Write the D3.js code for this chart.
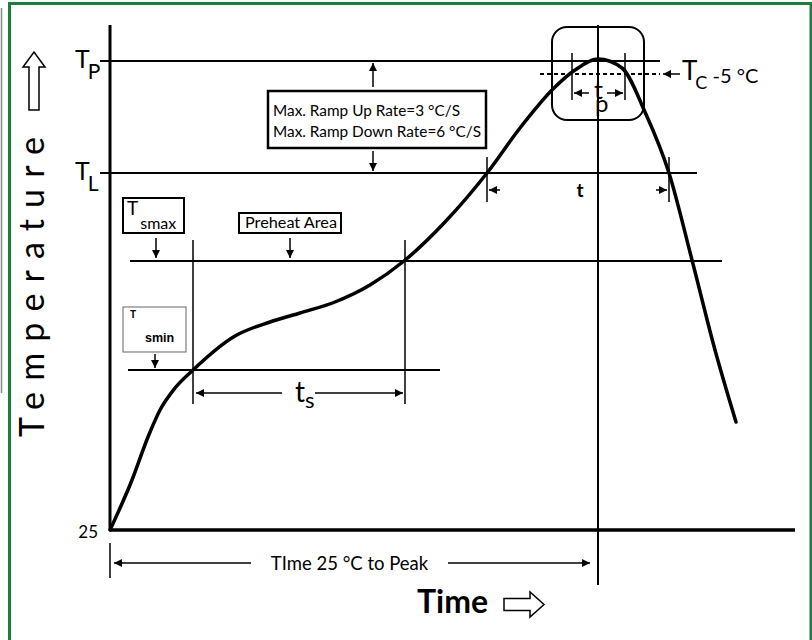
<!DOCTYPE html>
<html>
<head>
<meta charset="utf-8">
<script src="https://cdn.jsdelivr.net/npm/d3@7"></script>
<style>
  body { margin: 0; background: #fff; }
  text { font-family: Lato, "Open Sans", sans-serif; fill: #000; }
</style>
</head>
<body>
<div id="chart"></div>
<script>
// Reflow profile curve (time in s, temperature in °C, schematic)
const profileTime = [0, 11, 19, 25, 32.5, 41.5, 62.5, 80, 95, 112.5, 130, 147, 167.5, 188.5, 205, 221.5, 232.5, 244, 256, 267.5, 279.5, 291, 302.5, 313];
const profileTemp = [25, 50, 71.5, 85, 96, 105, 122, 129, 133.5, 139, 147.5, 159.5, 179, 203.5, 226, 245.5, 255, 260.5, 256, 234, 203.5, 160, 115, 79];

// Temperature levels drawn as horizontal lines
const levelNames = ["TP", "TL", "Tsmax", "Tsmin"];
const levelTemps = [259.5, 203.5, 159.5, 105];
const levelFrom = [-5, -5, 10, 9];
const levelTo = [275, 293.5, 306, 165];

// Tc -5 °C line
const tcTemp = 253;
const tcFrom = 215, tcTo = 275;

// Time markers
const tsStart = 41.5, tsEnd = 147.5;
const tlStart = 188.5, tlEnd = 279.5;
const tpStart = 231, tpEnd = 257.5;
const peakTime = 244;
const baseTemp = 25;
const yTickLabels = ["25"];

const svg = d3.select("#chart").append("svg")
  .attr("width", 812).attr("height", 640);

const x = d3.scaleLinear().domain([0, 340]).range([110, 790]);
const y = d3.scaleLinear().domain([25, 260]).range([530, 60]);

// arrow head
const defs = svg.append("defs");
defs.append("marker")
  .attr("id", "ah")
  .attr("viewBox", "0 0 10 10")
  .attr("refX", 10).attr("refY", 5)
  .attr("markerWidth", 10).attr("markerHeight", 8)
  .attr("markerUnits", "userSpaceOnUse")
  .attr("orient", "auto-start-reverse")
  .append("path").attr("d", "M0,0L10,5L0,10z").attr("fill", "#000");

// green frame + grey edge line
svg.append("rect").attr("x", 9.5).attr("y", 3.5).attr("width", 801.5).attr("height", 660)
  .attr("fill", "none").attr("stroke", "#1b7f3c").attr("stroke-width", 3);
svg.append("line").attr("x1", 1.5).attr("x2", 1.5).attr("y1", 8).attr("y2", 393)
  .attr("stroke", "#8a8a8a").attr("stroke-width", 1.5);

function seg(t1, T1, t2, T2, w, opts) {
  opts = opts || {};
  const l = svg.append("line")
    .attr("x1", x(t1)).attr("y1", y(T1))
    .attr("x2", x(t2)).attr("y2", y(T2))
    .attr("stroke", "#000").attr("stroke-width", w);
  if (opts.dash) l.attr("stroke-dasharray", opts.dash);
  if (opts.end) l.attr("marker-end", "url(#ah)");
  if (opts.start) l.attr("marker-start", "url(#ah)");
  return l;
}

function label(px, py, parts, anchor) {
  const t = svg.append("text").attr("x", px).attr("y", py).attr("text-anchor", anchor || "start");
  parts.forEach(p => {
    const s = t.append("tspan").text(p.text).attr("font-size", p.size);
    if (p.dy) s.attr("dy", p.dy);
    if (p.dx) s.attr("dx", p.dx);
    if (p.weight) s.attr("font-weight", p.weight);
    if (p.family) s.attr("font-family", p.family);
  });
  return t;
}

// axes
seg(0, 277.5, 0, baseTemp, 3);
seg(0, baseTemp, 342.5, baseTemp, 3.5);
svg.selectAll(".ytick").data(yTickLabels).enter().append("text")
  .attr("x", x(0) - 12).attr("y", d => y(+d) + 8)
  .attr("text-anchor", "end").attr("font-size", 17).text(d => d);

// level lines
levelTemps.forEach((T, i) => seg(levelFrom[i], T, levelTo[i], T, 2));
seg(tcFrom, tcTemp, tcTo, tcTemp, 2, { dash: "4,3" });

// verticals
seg(tsStart, 170, tsStart, 88, 1.5);
seg(tsEnd, 170, tsEnd, 88, 1.5);
seg(peakTime, 277.5, peakTime, -2.5, 2);
seg(tlStart, 211.5, tlStart, 189, 1.5);
seg(tlEnd, 211.5, tlEnd, 189, 1.5);
seg(tpStart, 263.5, tpStart, 240, 1.5);
seg(tpEnd, 263.5, tpEnd, 240, 1.5);
seg(0, 18.5, 0, 1, 1.5);

// curve
const pts = profileTime.map((t, i) => [t, profileTemp[i]]);
svg.append("path")
  .attr("d", d3.line().x(d => x(d[0])).y(d => y(d[1])).curve(d3.curveMonotoneX)(pts))
  .attr("fill", "none").attr("stroke", "#000").attr("stroke-width", 3.5)
  .attr("stroke-linecap", "round");

// level labels
label(75, y(levelTemps[0]) + 7, [{ text: "T", size: 25 }, { text: "P", size: 21, dy: 11, dx: -2 }]);
label(75, y(levelTemps[1]) + 7, [{ text: "T", size: 25 }, { text: "L", size: 21, dy: 11, dx: -2 }]);

// ramp rate box
svg.append("rect").attr("x", x(79)).attr("y", y(244.5))
  .attr("width", x(188) - x(79)).attr("height", y(216) - y(244.5))
  .attr("fill", "#fff").attr("stroke", "#000").attr("stroke-width", 2.5);
label(x(81.5), y(232), [{ text: "Max. Ramp Up Rate=3 °C/S", size: 15.5 }])
  .attr("textLength", 187).attr("lengthAdjust", "spacingAndGlyphs");
label(x(81.5), y(221.5), [{ text: "Max. Ramp Down Rate=6 °C/S", size: 15.5 }])
  .attr("textLength", 208).attr("lengthAdjust", "spacingAndGlyphs");
seg(131.5, 246.5, 131.5, 258.5, 1.5, { end: true });
seg(131.5, 214.5, 131.5, 204.5, 1.5, { end: true });

// Tsmax box
svg.append("rect").attr("x", x(6.5)).attr("y", y(191))
  .attr("width", x(37) - x(6.5)).attr("height", y(173.5) - y(191))
  .attr("fill", "#fff").attr("stroke", "#000").attr("stroke-width", 2);
label(x(8.5), y(185) + 5, [{ text: "T", size: 19 }, { text: "smax", size: 16, dy: 14, dx: 2 }]);
seg(23, 171, 23, 161, 1.5, { end: true });

// Preheat Area box
svg.append("rect").attr("x", x(64.5)).attr("y", y(183.5))
  .attr("width", x(115.5) - x(64.5)).attr("height", y(173.5) - y(183.5))
  .attr("fill", "#fff").attr("stroke", "#000").attr("stroke-width", 2);
label(x(67.5), y(176.5) + 1, [{ text: "Preheat Area", size: 14.5 }])
  .attr("textLength", 92).attr("lengthAdjust", "spacingAndGlyphs");
seg(90, 171, 90, 161, 1.5, { end: true });

// Tsmin box
svg.append("rect").attr("x", x(6.5)).attr("y", y(136.5))
  .attr("width", x(38) - x(6.5)).attr("height", y(114) - y(136.5))
  .attr("fill", "#fff").attr("stroke", "#666").attr("stroke-width", 1);
label(x(10), y(131.5) + 1, [{ text: "T", size: 10, weight: "bold", family: "Liberation Sans, Arial, sans-serif" }]);
label(x(17.5), y(119), [{ text: "smin", size: 12.5, weight: "bold", family: "Liberation Sans, Arial, sans-serif" }]);
seg(22.5, 113, 22.5, 106, 1.5, { end: true });

// ts arrows
seg(tsStart + 1.5, 93.5, 86, 93.5, 1.5, { start: true });
seg(102.5, 93.5, tsEnd - 1, 93.5, 1.5, { end: true });
label(x(92.5), y(93.5) + 9, [{ text: "t", size: 28 }, { text: "s", size: 22, dy: 6 }]);

// t between TL crossings
seg(tlStart + 6.5, 195, tlStart + 1, 195, 1.5, { end: true });
seg(tlEnd - 6.5, 195, tlEnd - 1, 195, 1.5, { end: true });
label(x(235), y(195) + 7, [{ text: "t", size: 19, weight: "bold" }], "middle");

// peak box
svg.append("rect").attr("x", x(221)).attr("y", y(276.5))
  .attr("width", x(267) - x(221)).attr("height", y(230) - y(276.5))
  .attr("rx", 15).attr("ry", 15)
  .attr("fill", "none").attr("stroke", "#000").attr("stroke-width", 2);
seg(239.5, 243.5, tpStart + 1, 243.5, 1.5, { end: true });
seg(248.5, 243.5, tpEnd - 1, 243.5, 1.5, { end: true });
label(x(peakTime) - 4, y(243.5) + 6, [{ text: "t", size: 25 }, { text: "p", size: 24, dx: -8, dy: 13 }]);

// Tc -5 °C label
seg(285, tcTemp, 276.5, tcTemp, 1.5, { end: true });
label(x(286), y(tcTemp) + 6, [{ text: "T", size: 26 }, { text: "C", size: 18, dy: 9, dx: -2 }, { text: " -5 °C", size: 20, dy: -6 }]);

// time to peak
seg(2, 8.5, 70.5, 8.5, 1.5, { start: true });
seg(169, 8.5, peakTime - 4, 8.5, 1.5, { end: true });
label((x(70.5) + x(169)) / 2, y(8.5) + 7, [{ text: "TIme 25 °C to Peak", size: 18.5 }], "middle");

// axis titles
svg.append("text").attr("x", 417).attr("y", 613)
  .attr("font-family", "Liberation Sans, Arial, sans-serif")
  .attr("font-weight", "bold").attr("font-size", 32).text("Time");
svg.append("path")
  .attr("d", "M504,598.5H530V592L544,604.5L530,617V610.5H504Z")
  .attr("fill", "#fff").attr("stroke", "#000").attr("stroke-width", 1.5);

svg.append("text")
  .attr("transform", "translate(44,437) rotate(-90)")
  .attr("font-size", 34)
  .attr("textLength", 300).attr("lengthAdjust", "spacing")
  .text("Temperature");
svg.append("path")
  .attr("d", "M29,110V67H23L34,52L45,67H39V110Z")
  .attr("fill", "#fff").attr("stroke", "#000").attr("stroke-width", 1.5);
</script>
</body>
</html>
